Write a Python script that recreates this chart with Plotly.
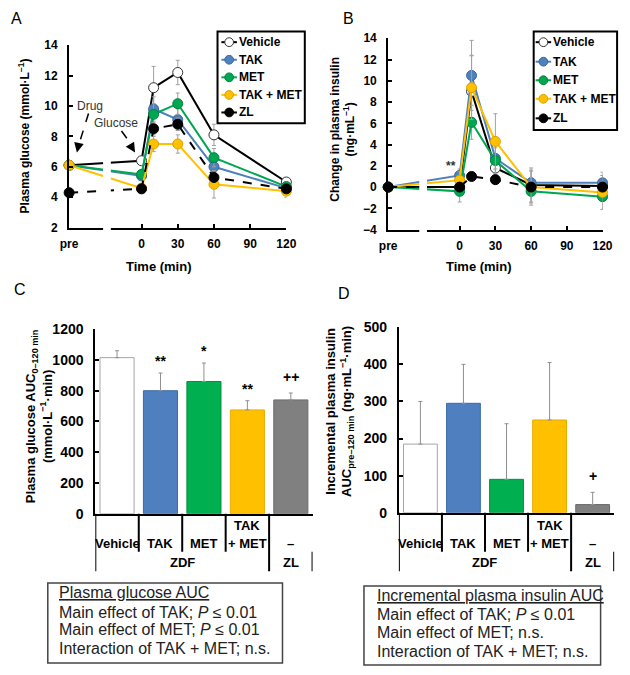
import plotly.graph_objects as go

W, H = 630, 675
FONT = "Liberation Sans, Arial, sans-serif"

# ---- data -------------------------------------------------------------
# sampling times (min); "pre" is drawn at -60 on the broken time axis
sample_times = [-60, 0, 10, 30, 60, 120]
tick_times = [-60, 0, 30, 60, 90, 120]
tick_labels = ["pre", "0", "30", "60", "90", "120"]

groups = ["Vehicle", "TAK", "MET", "TAK + MET", "ZL"]

# A: plasma glucose (mmol/L)
glucose_vehicle = [6.1, 6.4, 11.2, 12.2, 8.1, 5.0]
glucose_tak = [6.1, 5.4, 9.8, 9.1, 6.0, 4.6]
glucose_met = [6.1, 5.5, 9.45, 10.15, 6.6, 4.7]
glucose_takmet = [6.1, 4.6, 7.5, 7.5, 4.85, 4.4]
glucose_zl = [4.3, 4.55, 8.5, 8.8, 5.3, 4.55]

glucose_sd_vehicle = [0.2, 0.2, 1.4, 0.8, 0.7, 0.3]
glucose_sd_tak = [0.2, 0.3, 0.8, 0.7, 0.6, 0.3]
glucose_sd_met = [0.2, 0.3, 0.7, 0.7, 0.6, 0.3]
glucose_sd_takmet = [0.2, 0.2, 0.5, 0.6, 0.9, 0.4]
glucose_sd_zl = [0.2, 0.2, 0.4, 0.4, 0.3, 0.2]

# B: change in plasma insulin (ng/mL)
insulin_vehicle = [0.0, 0.0, 9.0, 1.8, 0.2, 0.1]
insulin_tak = [0.0, 1.1, 10.5, 2.7, 0.4, 0.4]
insulin_met = [0.0, -0.4, 6.1, 2.5, -0.4, -0.9]
insulin_takmet = [0.0, 0.65, 9.35, 4.3, 0.0, -0.5]
insulin_zl = [0.0, 0.0, 1.0, 0.7, 0.0, 0.0]

insulin_sd_vehicle = [0.0, 0.3, 3.4, 1.2, 1.6, 1.0]
insulin_sd_tak = [0.0, 0.6, 3.3, 1.5, 1.2, 1.0]
insulin_sd_met = [0.0, 1.0, 1.6, 1.2, 1.3, 1.2]
insulin_sd_takmet = [0.0, 0.8, 3.0, 2.6, 1.5, 1.6]
insulin_sd_zl = [0.0, 0.2, 0.3, 0.3, 0.2, 0.2]

# C, D: AUC bars
glucose_auc = [1015, 800, 860, 675, 740]
glucose_auc_sd = [45, 115, 120, 60, 45]
glucose_auc_marks = ["", "**", "*", "**", "++"]

insulin_auc = [185, 295, 90, 250, 22]
insulin_auc_sd = [115, 105, 150, 155, 33]
insulin_auc_marks = ["", "", "", "", "+"]

table_top = ["", "", "", "TAK", ""]
table_mid = ["Vehicle", "TAK", "MET", "+ MET", "–"]

line_colors = ["black", "#4f81bd", "#00a651", "#ffc000", "black"]
marker_fill = ["white", "#4f81bd", "#00a651", "#ffc000", "black"]
marker_edge = ["#333333", "#3a68a0", "#00853f", "#d9a300", "black"]
bar_fill = ["white", "#4f7fbf", "#00b050", "#ffc000", "#808080"]
bar_edge = ["#a6a6a6", "#3d6aa5", "#009040", "#e6ac00", "#6a6a6a"]


def px(x):
    return x / W


def py(y):
    return 1 - y / H


fig = go.Figure()

glucose_series = [glucose_vehicle, glucose_tak, glucose_met, glucose_takmet, glucose_zl]
glucose_sds = [glucose_sd_vehicle, glucose_sd_tak, glucose_sd_met, glucose_sd_takmet, glucose_sd_zl]
insulin_series = [insulin_vehicle, insulin_tak, insulin_met, insulin_takmet, insulin_zl]
insulin_sds = [insulin_sd_vehicle, insulin_sd_tak, insulin_sd_met, insulin_sd_takmet, insulin_sd_zl]

for axis_id, series, sds in [("", glucose_series, glucose_sds), ("2", insulin_series, insulin_sds)]:
    for i, name in enumerate(groups):
        fig.add_trace(go.Scatter(
            x=sample_times, y=series[i], name=name, showlegend=False,
            xaxis="x" + axis_id, yaxis="y" + axis_id,
            mode="lines+markers", cliponaxis=False,
            line=dict(color=line_colors[i], width=2,
                      dash="dash" if name == "ZL" else "solid"),
            marker=dict(size=10, color=marker_fill[i],
                        line=dict(color=marker_edge[i], width=1)),
            error_y=dict(type="data", array=sds[i], color="#a0a0a0",
                         thickness=1, width=2),
        ))

for axis_id, values, sds in [("3", glucose_auc, glucose_auc_sd), ("4", insulin_auc, insulin_auc_sd)]:
    fig.add_trace(go.Bar(
        x=groups, y=values, xaxis="x" + axis_id, yaxis="y" + axis_id,
        showlegend=False,
        marker=dict(color=bar_fill, line=dict(color=bar_edge, width=1)),
        error_y=dict(type="data", array=sds, arrayminus=[0] * len(sds),
                     symmetric=False, color="#909090", thickness=1, width=2),
    ))

axis_common = dict(showline=True, linecolor="black", linewidth=2, ticks="inside",
                   ticklen=4, tickwidth=2, tickcolor="black", showgrid=False,
                   zeroline=False, tickfont=dict(size=12, family=FONT, weight="bold",
                                                 color="black"))

time_axis = dict(axis_common, range=[-60, 120], tickvals=tick_times, ticktext=tick_labels,
                 ticklabelstandoff=4)

fig.update_layout(
    width=W, height=H, margin=dict(l=0, r=0, t=0, b=0),
    paper_bgcolor="white", plot_bgcolor="white",
    font=dict(family=FONT, color="black"),
    bargap=0.215,
    xaxis=dict(time_axis, domain=[px(62), px(286)], anchor="y"),
    yaxis=dict(axis_common, domain=[py(225), py(38)], range=[2, 14], dtick=2,
               anchor="x", ticklabelstandoff=7),
    xaxis2=dict(time_axis, domain=[px(391), px(612)], anchor="y2"),
    yaxis2=dict(axis_common, domain=[py(227), py(31)], range=[-4, 14], dtick=2,
                anchor="x2", ticklabelstandoff=7),
    xaxis3=dict(axis_common, domain=[px(89), px(313)], anchor="y3", range=[-0.5, 4.5],
                type="category", ticks="", showticklabels=False),
    yaxis3=dict(axis_common, domain=[py(518), py(329)], range=[0, 1200], dtick=200,
                anchor="x3", ticklabelstandoff=7,
                tickfont=dict(size=14, family=FONT, weight="bold", color="black")),
    xaxis4=dict(axis_common, domain=[px(402), px(624)], anchor="y4", range=[-0.5, 4.5],
                type="category", ticks="", showticklabels=False),
    yaxis4=dict(axis_common, domain=[py(517), py(327)], range=[0, 500], dtick=100,
                anchor="x4", ticklabelstandoff=7,
                tickfont=dict(size=14, family=FONT, weight="bold", color="black")),
)

ann = []
shapes = []


def text(x, y, s, size=12, bold=True, color="black", **kw):
    a = dict(x=px(x), y=py(y), xref="paper", yref="paper", text=s, showarrow=False,
             xanchor="center", yanchor="middle",
             font=dict(size=size, family=FONT, color=color,
                       weight="bold" if bold else "normal"))
    a.update(kw)
    ann.append(a)


# panel letters
text(8, 11, "A", 16, bold=False)
text(350, 11, "B", 16, bold=False)
text(11, 288, "C", 16, bold=False)
text(345, 292, "D", 16, bold=False)

# axis titles
text(15, 131, "Plasma glucose (mmol·L<sup>−1</sup>)", 12, textangle=-90)
text(344, 124, "Change in plasma insulin<br>(ng·mL<sup>−1</sup>)", 12, textangle=-90)
text(31, 418, "Plasma glucose AUC<sub>0–120 min</sub><br>(mmol·L<sup>−1</sup>·min)", 13,
     textangle=-90)
text(341, 413, "Incremental plasma insulin<br>AUC<sub>pre–120 min</sub> (ng·mL<sup>−1</sup>·min)",
     13, textangle=-90)
text(155, 265, "Time (min)", 13)
text(485, 265, "Time (min)", 13)

# legends (drawn by hand to keep the compact symbol of the original)
for (bx0, by0, bx1, by1), sym_x, rows in [
    ((215, 24, 305, 118), 219, [35, 53, 71, 89, 107]),
    ((541, 24, 627, 125), 543, [35, 55, 74, 93, 113]),
]:
    shapes.append(dict(type="rect", xref="paper", yref="paper", x0=px(bx0), x1=px(bx1),
                       y0=py(by1), y1=py(by0), fillcolor="white",
                       line=dict(color="black", width=2), layer="above"))
    for i, name in enumerate(groups):
        yy = rows[i]
        shapes.append(dict(type="line", xref="paper", yref="paper", x0=px(sym_x),
                           x1=px(sym_x + 16), y0=py(yy), y1=py(yy), layer="above",
                           line=dict(color=line_colors[i], width=2)))
        shapes.append(dict(type="circle", xref="paper", yref="paper", x0=px(sym_x + 3.5),
                           x1=px(sym_x + 12.5), y0=py(yy + 4.5), y1=py(yy - 4.5),
                           layer="above", fillcolor=marker_fill[i],
                           line=dict(color=marker_edge[i], width=1)))
        text(sym_x + 16, yy, name, 12, xanchor="left")

# broken time axis between "pre" and 0
for x0, x1, y0 in [(97, 105, 140), (423, 431, 150)]:
    shapes.append(dict(type="rect", xref="paper", yref="paper", x0=px(x0), x1=px(x1),
                       y0=py(233), y1=py(y0), fillcolor="white", line=dict(width=0),
                       layer="above"))

# dosing arrows in A
text(84, 100, "Drug", 12, bold=False, color="#333")
text(110, 118, "Glucose", 12, bold=False, color="#333")
for (x0, y0, x1, y1) in [(82, 108, 72, 140), (116, 126, 127, 141)]:
    shapes.append(dict(type="line", xref="paper", yref="paper", x0=px(x0), y0=py(y0),
                       x1=px(x1), y1=py(y1), line=dict(color="black", width=1.5, dash="dash")))
for (tx, ty, ax, ay) in [(70, 148, 2, -9), (130, 148, -5, -8)]:
    ann.append(dict(x=px(tx), y=py(ty), xref="paper", yref="paper", ax=ax, ay=ay,
                    text="", showarrow=True, arrowhead=2, arrowsize=1.3, arrowwidth=1.5,
                    arrowcolor="black", standoff=0))

# significance marks
ann.append(dict(x=0, y=2.0, xref="x2", yref="y2", text="**", showarrow=False, xshift=-9,
                font=dict(size=12, family=FONT, color="#333", weight="bold")))
for axis_id, values, sds, marks in [("3", glucose_auc, glucose_auc_sd, glucose_auc_marks),
                                     ("4", insulin_auc, insulin_auc_sd, insulin_auc_marks)]:
    for g, v, s, m in zip(groups, values, sds, marks):
        if m:
            ann.append(dict(x=g, y=v + s, xref="x" + axis_id, yref="y" + axis_id, text=m,
                            showarrow=False, yanchor="bottom", yshift=2 if "*" in m else 6,
                            font=dict(size=14, family=FONT, color="black", weight="bold")))

# treatment table under bar charts
cell_font = dict(size=13, family=FONT, color="black", weight="bold")
for axis_id in ["3", "4"]:
    xr = "x" + axis_id
    top = 518 if axis_id == "3" else 517
    for i, g in enumerate(groups):
        if table_top[i]:
            ann.append(dict(x=i, y=py(530), xref=xr, yref="paper", text=table_top[i],
                            showarrow=False, yanchor="middle", font=cell_font))
        ann.append(dict(x=i, y=py(549), xref=xr, yref="paper", text=table_mid[i],
                        showarrow=False, yanchor="middle", font=cell_font))
    ann.append(dict(x=1.5, y=py(568), xref=xr, yref="paper", text="ZDF", showarrow=False,
                    yanchor="middle", font=cell_font))
    ann.append(dict(x=4, y=py(568), xref=xr, yref="paper", text="ZL", showarrow=False,
                    yanchor="middle", font=cell_font))
    for xv, y0, y1 in [(-0.5, top, 577), (0.5, top, 557), (1.5, top, 557), (2.5, top, 557),
                       (3.5, top, 577), (4.5, 557, 577)]:
        shapes.append(dict(type="line", xref=xr, yref="paper", x0=xv, x1=xv,
                           y0=py(y0), y1=py(y1), line=dict(color="black", width=2)))

# statistics boxes
box_c = ["Plasma glucose AUC", "Main effect of TAK; <i>P</i> ≤ 0.01",
         "Main effect of MET; <i>P</i> ≤ 0.01", "Interaction of TAK + MET; n.s."]
box_d = ["Incremental plasma insulin AUC", "Main effect of TAK; <i>P</i> ≤ 0.01",
         "Main effect of MET; n.s.", "Interaction of TAK + MET; n.s."]
for lines, x_left, rows, (bx0, by0, bx1, by1) in [
    (box_c, 49, [599, 619, 637, 656], (40, 589, 282, 671)),
    (box_d, 377, [602, 621, 640, 659], (366, 592, 610, 673)),
]:
    shapes.append(dict(type="rect", xref="paper", yref="paper", x0=px(bx0), x1=px(bx1),
                       y0=py(by1), y1=py(by0), line=dict(color="#444", width=1.5)))
    for k, (s, yy) in enumerate(zip(lines, rows)):
        ann.append(dict(x=px(x_left), y=py(yy), xref="paper", yref="paper", text=s,
                        showarrow=False, xanchor="left", yanchor="middle",
                        font=dict(size=16, family=FONT, color="#222",
                                  lineposition="under" if k == 0 else "none")))

fig.update_layout(annotations=ann, shapes=shapes)
# the page body keeps no default margin so the figure fills the window exactly
fig.write_html("out.html", config={"displayModeBar": False},
               post_script="document.body.style.margin='0';document.body.style.overflow='hidden';")
